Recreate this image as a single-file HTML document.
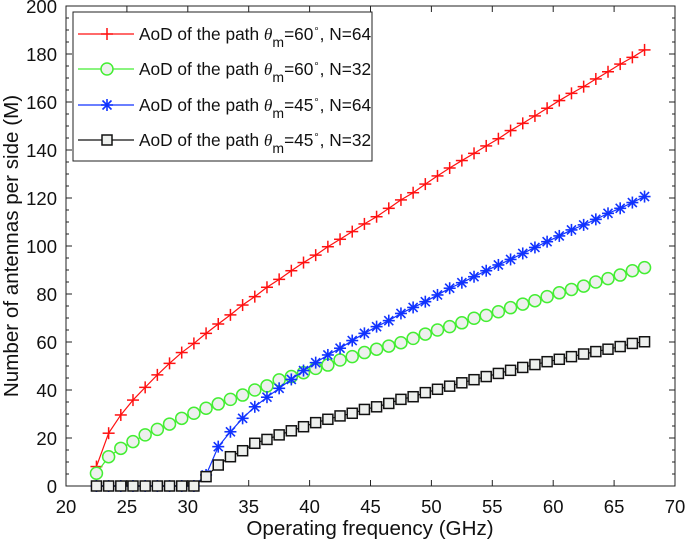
<!DOCTYPE html>
<html><head><meta charset="utf-8"><style>
body{margin:0;background:#fff;}
svg text{font-family:"Liberation Sans",sans-serif;}
</style></head><body>
<svg id="chart" width="685" height="545" viewBox="0 0 685 545">
</svg>
<script>
const freqs = [];
for (let f = 22.5; f <= 67.5; f += 1) freqs.push(f);
const red60n64 = [8.1,22.0,29.6,35.8,41.1,46.3,51.1,55.6,59.4,63.6,67.5,71.3,75.4,78.9,82.8,86.1,89.7,93.1,96.2,99.7,102.8,106.0,109.2,112.2,115.7,119.2,122.2,125.8,129.2,132.5,135.6,138.6,141.7,144.7,148.1,151.1,154.2,157.4,160.6,163.6,166.4,169.6,172.6,175.8,178.6,181.7];
const green60n32 = [5.3,12.2,15.7,18.5,21.3,23.6,25.8,28.2,30.3,32.4,34.2,36.1,37.9,40.0,41.7,44.2,45.6,47.2,49.0,50.4,52.5,53.9,55.6,57.0,58.3,59.7,61.5,63.3,65.0,66.4,68.0,69.9,71.1,72.6,74.3,75.8,77.2,78.9,80.5,81.9,83.3,85.0,86.4,87.9,89.7,91.0];
const blue45n64 = [0,0,0,0,0,0,0,0,0,4.6,16.4,22.6,28.2,33.0,37.0,40.7,44.4,48.1,51.4,54.6,57.4,60.6,63.6,66.4,68.9,71.9,74.4,76.8,79.6,82.4,84.7,87.2,89.7,92.1,94.4,96.9,99.4,101.8,104.2,106.7,108.8,111.1,113.6,115.7,118.1,120.6];
const black45n32 = [0,0,0,0,0,0,0,0,0,3.9,8.75,12.2,14.7,17.8,19.4,21.3,23.0,24.7,26.4,27.8,29.2,30.3,31.9,33.0,34.4,36.1,37.2,38.9,40.3,41.6,43.0,44.3,45.6,46.9,48.2,49.4,50.6,51.8,52.8,53.9,55.0,56.0,57.0,58.1,59.4,60.1];
const xTicks = [20,25,30,35,40,45,50,55,60,65,70];
const yTicks = [0,20,40,60,80,100,120,140,160,180,200];

const NS = "http://www.w3.org/2000/svg";
const svg = document.getElementById('chart');
const X0=66, X1=675, Y0=486, Y1=6;
const xs = v => X0 + (v-20)/50*(X1-X0);
const ys = v => Y0 - v/200*(Y0-Y1);
function mk(tag, attrs, parent){const e=document.createElementNS(NS,tag);for(const k in attrs)e.setAttribute(k,attrs[k]);(parent||svg).appendChild(e);return e;}

const box = mk('rect',{x:X0,y:Y1,width:X1-X0,height:Y0-Y1,fill:'none',stroke:'#222','stroke-width':1});



xTicks.forEach(t=>{
  const x=xs(t);
  mk('line',{x1:x,x2:x,y1:Y0,y2:Y0-6,stroke:'#222'});
  mk('line',{x1:x,x2:x,y1:Y1,y2:Y1+6,stroke:'#222'});
  const tx=mk('text',{x:x,y:Y0+27,'text-anchor':'middle','font-size':18.5,fill:'#111'});
  tx.textContent=t;
  
  
});
yTicks.forEach(t=>{
  const y=ys(t);
  mk('line',{x1:X0,x2:X0+6,y1:y,y2:y,stroke:'#222'});
  mk('line',{x1:X1,x2:X1-6,y1:y,y2:y,stroke:'#222'});
  const tx=mk('text',{x:X0-9,y:y+7,'text-anchor':'end','font-size':18.5,fill:'#111'});
  tx.textContent=t;
  
  
});
for(let v=5;v<200;v+=5){ if(v%20===0) continue; const y=ys(v);
  mk('line',{x1:X0,x2:X0+3,y1:y,y2:y,stroke:'#222'});
  mk('line',{x1:X1,x2:X1-3,y1:y,y2:y,stroke:'#222'});
}

const xl=mk('text',{x:370,y:535,'text-anchor':'middle','font-size':20.6,fill:'#111'});
xl.textContent='Operating frequency (GHz)';


const yl=mk('text',{x:0,y:0,'text-anchor':'middle','font-size':20.6,fill:'#111',transform:'translate(18,246) rotate(-90)'});
yl.textContent='Number of antennas per side (M)';



function marker(type,x,y,color,g){
  if(type==='plus'){
    mk('line',{x1:x-6,x2:x+6,y1:y,y2:y,stroke:color,'stroke-width':1.5},g);
    mk('line',{x1:x,x2:x,y1:y-6,y2:y+6,stroke:color,'stroke-width':1.5},g);
  } else if(type==='circle'){
    mk('circle',{cx:x,cy:y,r:6,fill:'#eef0ee',stroke:'#44ee33','stroke-width':1.5},g);
  } else if(type==='star'){
    mk('line',{x1:x-6,x2:x+6,y1:y,y2:y,stroke:color,'stroke-width':1.6},g);
    mk('line',{x1:x,x2:x,y1:y-6,y2:y+6,stroke:color,'stroke-width':1.6},g);
    mk('line',{x1:x-4.5,x2:x+4.5,y1:y-4.5,y2:y+4.5,stroke:color,'stroke-width':1.6},g);
    mk('line',{x1:x-4.5,x2:x+4.5,y1:y+4.5,y2:y-4.5,stroke:color,'stroke-width':1.6},g);
  } else {
    mk('rect',{x:x-5,y:y-5,width:10,height:10,fill:'#eef0ee',stroke:'#111','stroke-width':1.5},g);
  }
}
const series=[
 {vals:red60n64,color:'#ff1111',type:'plus',name:'series-theta60-n64'},
 {vals:green60n32,color:'#44ee33',type:'circle',name:'series-theta60-n32'},
 {vals:blue45n64,color:'#1133ff',type:'star',name:'series-theta45-n64'},
 {vals:black45n32,color:'#111',type:'square',name:'series-theta45-n32'}
];
series.forEach(s=>{
  const g=mk('g',{});
  
  
  const pts=s.vals.map((v,i)=>xs(freqs[i])+','+ys(v)).join(' ');
  mk('polyline',{points:pts,fill:'none',stroke:s.color,'stroke-width':1.2},g);
  s.vals.forEach((v,i)=>marker(s.type,xs(freqs[i]),ys(v),s.color,g));
});

const lg=mk('g',{});


mk('rect',{x:73,y:12,width:299,height:149,fill:'#fff',stroke:'#222','stroke-width':1},lg);
const leg=[['ff1111','plus','60','64'],['44ee33','circle','60','32'],['1133ff','star','45','64'],['111','square','45','32']];
[34,69,105,140].forEach((y,i)=>{
  const e=mk('g',{},lg);
  
  
  const c='#'+leg[i][0];
  mk('line',{x1:78,x2:134,y1:y,y2:y,stroke:c,'stroke-width':1.2},e);
  marker(leg[i][1],107,y,c,e);
  const t=mk('text',{x:139,y:y+6,'font-size':17.3,fill:'#111'},e);
  t.innerHTML='AoD of the path <tspan font-family="Liberation Serif" font-style="italic">θ</tspan><tspan dy="7" font-size="14">m</tspan><tspan dy="-7">='+leg[i][2]+'</tspan><tspan dy="-8" font-size="10">∘</tspan><tspan dy="8">, N='+leg[i][3]+'</tspan>';
});
</script>
</body></html>
